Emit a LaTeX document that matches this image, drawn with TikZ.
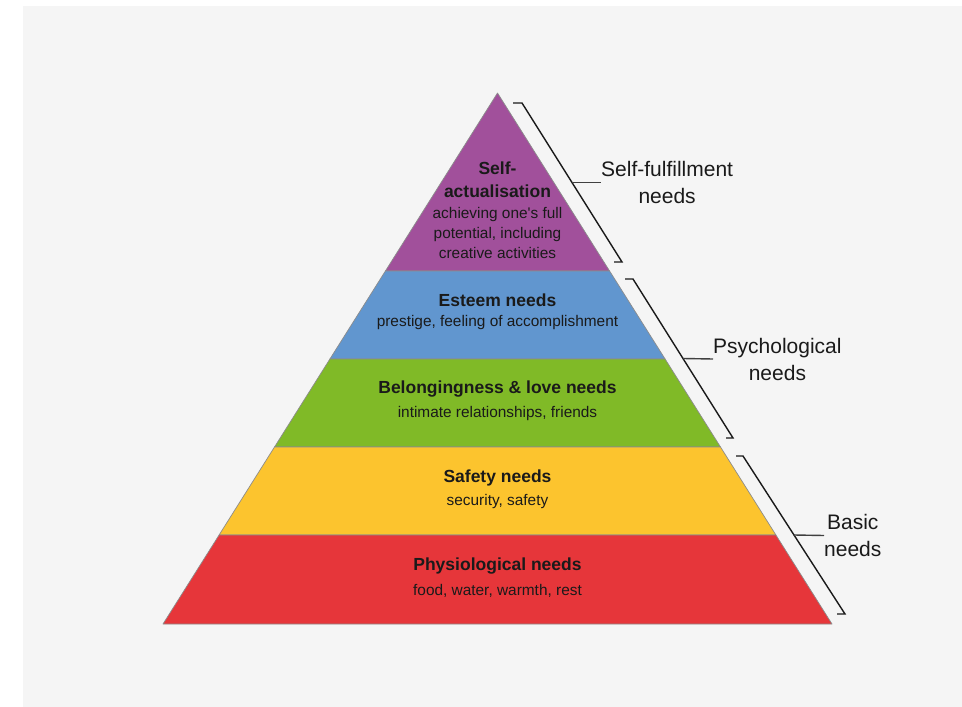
\documentclass[tikz,border=0pt]{standalone}
\usepackage{fontspec}
\setmainfont{Liberation Sans}
\definecolor{bgc}{HTML}{F5F5F5}
\definecolor{cpurple}{HTML}{A1509B}
\definecolor{cblue}{HTML}{6196CF}
\definecolor{cgreen}{HTML}{80BA27}
\definecolor{cyellow}{HTML}{FCC42E}
\definecolor{cred}{HTML}{E6363A}
\definecolor{ink}{HTML}{1A1A1A}
\begin{document}
\begin{tikzpicture}[x=1pt,y=-1pt,
  layer/.style={draw=black!45, line width=0.7pt, line join=round},
  title/.style={font=\fontsize{17.5}{23}\selectfont\bfseries, text=ink, align=center, inner sep=0pt},
  sub/.style={font=\fontsize{15.4}{20}\selectfont, text=ink, align=center, inner sep=0pt},
  brk/.style={draw=ink, line width=1.4pt, line join=miter},
  tick/.style={draw=black!75, line width=1.4pt},
  lab/.style={font=\fontsize{21}{27}\selectfont, align=center, inner sep=0pt, text=ink, anchor=west}]
\useasboundingbox (0,0) rectangle (962,707);
\fill[white] (0,0) rectangle (962,707);
\fill[bgc] (23,6) rectangle (962,707);

% pyramid layers
\filldraw[layer, fill=cpurple] (497.5,93) -- (609.6,271) -- (385.4,271) -- cycle;
\filldraw[layer, fill=cblue] (385.4,271) -- (609.6,271) -- (665.1,359) -- (329.9,359) -- cycle;
\filldraw[layer, fill=cgreen] (329.9,359) -- (665.1,359) -- (720.5,447) -- (274.5,447) -- cycle;
\filldraw[layer, fill=cyellow] (274.5,447) -- (720.5,447) -- (775.9,535) -- (219.1,535) -- cycle;
\filldraw[layer, fill=cred] (219.1,535) -- (775.9,535) -- (832,624) -- (163,624) -- cycle;

% layer texts
\node[title] (t1) at (497.5,180) {Self-\\actualisation};
\node[sub] (s1) at (497.5,233) {achieving one\textquotesingle s full\\potential, including\\creative activities};
\node[title] (t2) at (497.5,300.5) {Esteem needs};
\node[sub] (s2) at (497.5,323) {prestige, feeling of accomplishment};
\node[title] (t3) at (497.5,389) {Belongingness \& love needs};
\node[sub] (s3) at (497.5,414) {intimate relationships, friends};
\node[title] (t4) at (497.5,478) {Safety needs};
\node[sub] (s4) at (497.5,502) {security, safety};
\node[title] (t5) at (497.5,566) {Physiological needs};
\node[sub] (s5) at (497.5,591) {food, water, warmth, rest};

% brackets
\coordinate (a0) at (513,103); \coordinate (a1) at (522,103);
\coordinate (a2) at (622,262); \coordinate (a3) at (614,262);
\coordinate (am) at (572,182.5);
\coordinate (b0) at (625,279); \coordinate (b1) at (633,279);
\coordinate (b2) at (733,438); \coordinate (b3) at (726,438);
\coordinate (bm) at (683,358.5);
\coordinate (c0) at (736,456); \coordinate (c1) at (743,456);
\coordinate (c2) at (845,614); \coordinate (c3) at (837,614);
\coordinate (cm) at (794,535);

\draw[brk] (a0) -- (a1) -- (a2) -- (a3);
\draw[brk] (b0) -- (b1) -- (b2) -- (b3);
\draw[brk] (c0) -- (c1) -- (c2) -- (c3);

\node[lab] (la) at (601,182.5) {Self-fulfillment\\needs};
\node[lab] (lb) at (713,359) {Psychological\\needs};
\node[lab] (lc) at (824,535.5) {Basic\\needs};

\draw[tick] (am) -- (la.west);
\draw[tick] (bm) -- (lb.west);
\draw[tick] (cm) -- (lc.west);
\end{tikzpicture}
\end{document}
